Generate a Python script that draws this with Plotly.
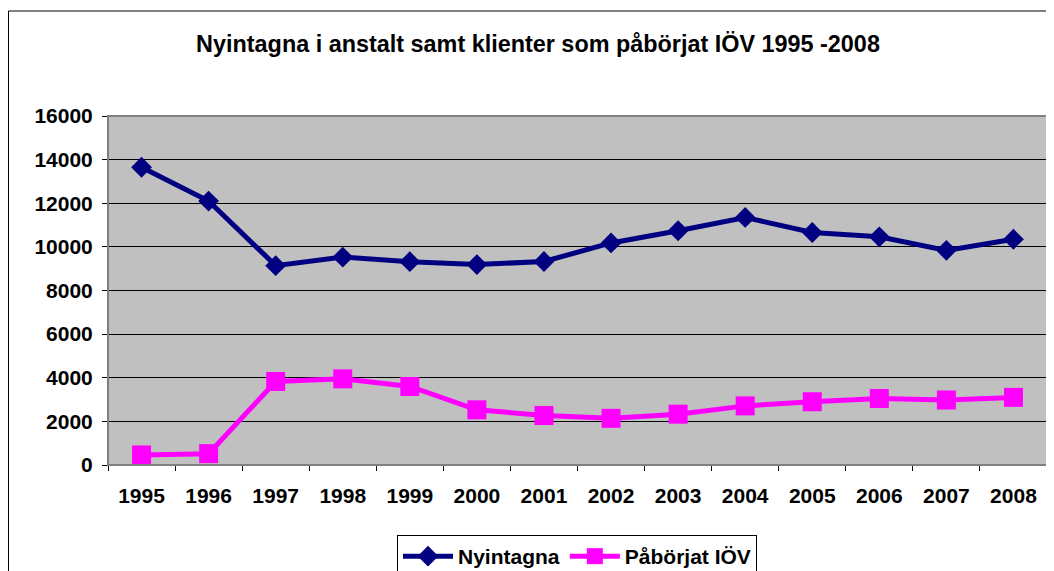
import plotly.graph_objects as go

years = ["1995", "1996", "1997", "1998", "1999", "2000", "2001",
         "2002", "2003", "2004", "2005", "2006", "2007", "2008"]
nyintagna = [13650, 12100, 9140, 9530, 9320, 9190, 9330,
             10180, 10740, 11350, 10660, 10460, 9840, 10350]
paborjat = [460, 520, 3830, 3950, 3600, 2530, 2270,
            2140, 2330, 2710, 2900, 3050, 2980, 3100]

FONT = "Liberation Sans, Arial, sans-serif"

# page has an 8px body margin, so the figure is 8px smaller than the window
W, H = 1046, 563
L, R, T, B = 100, 7, 108, 106
PW, PH = W - L - R, H - T - B

fig = go.Figure()
fig.add_trace(go.Scatter(
    x=years, y=nyintagna, name="<b>Nyintagna</b>", mode="lines+markers",
    line=dict(color="#000080", width=5),
    marker=dict(symbol="diamond", size=16, color="#000080"),
))
fig.add_trace(go.Scatter(
    x=years, y=paborjat, name="<b>Påbörjat IÖV</b>", mode="lines+markers",
    line=dict(color="#FF00FF", width=5),
    marker=dict(symbol="square", size=19, color="#FF00FF"),
))

fig.update_layout(
    width=W, height=H,
    margin=dict(l=L, r=R, t=T, b=B, autoexpand=False),
    paper_bgcolor="white",
    plot_bgcolor="#C0C0C0",
    font=dict(family=FONT, size=21, color="black"),
    title=dict(
        text="<b>Nyintagna i anstalt samt klienter som påbörjat IÖV 1995 -2008</b>",
        x=530 / W, xref="container", xanchor="center",
        y=1 - 36 / H, yref="container", yanchor="middle",
        font=dict(family=FONT, size=23.4, color="black"),
        automargin=False,
    ),
    showlegend=True,
    legend=dict(
        orientation="h", x=(569 - L) / PW, xanchor="center",
        y=(H - B - 527) / PH, yanchor="top",
        bordercolor="black", borderwidth=1, bgcolor="white",
        font=dict(family=FONT, size=21, color="black"),
        itemwidth=50,
    ),
    shapes=[
        dict(type="rect", xref="paper", yref="paper", x0=0, x1=1, y0=0, y1=1,
             line=dict(color="#808080", width=2), fillcolor="rgba(0,0,0,0)",
             layer="above"),
        dict(type="rect", xref="paper", yref="paper",
             x0=(0.5 - L) / PW, x1=1.02, y0=(H - B - 3) / PH, y1=-0.4,
             line=dict(color="black", width=1), fillcolor="rgba(0,0,0,0)",
             layer="below"),
    ],
)

fig.update_xaxes(
    type="category", range=[-0.5, 13.5], automargin=False,
    showgrid=False, showline=True, linecolor="black", linewidth=1,
    ticks="outside", tickson="boundaries", ticklen=5, tickcolor="black",
    tickfont=dict(family=FONT, size=21, color="black"),
    tickprefix="<b>", ticksuffix="</b>",
    ticklabelstandoff=12,
)
fig.update_yaxes(
    range=[0, 16000], dtick=2000, tickformat="d", automargin=False,
    showgrid=True, gridcolor="black", gridwidth=1,
    showline=True, linecolor="black", linewidth=1,
    ticks="outside", ticklen=5, tickcolor="black",
    tickfont=dict(family=FONT, size=21, color="black"),
    tickprefix="<b>", ticksuffix="</b>",
    ticklabelstandoff=5,
    zeroline=False,
)

fig.write_html("out.html")
